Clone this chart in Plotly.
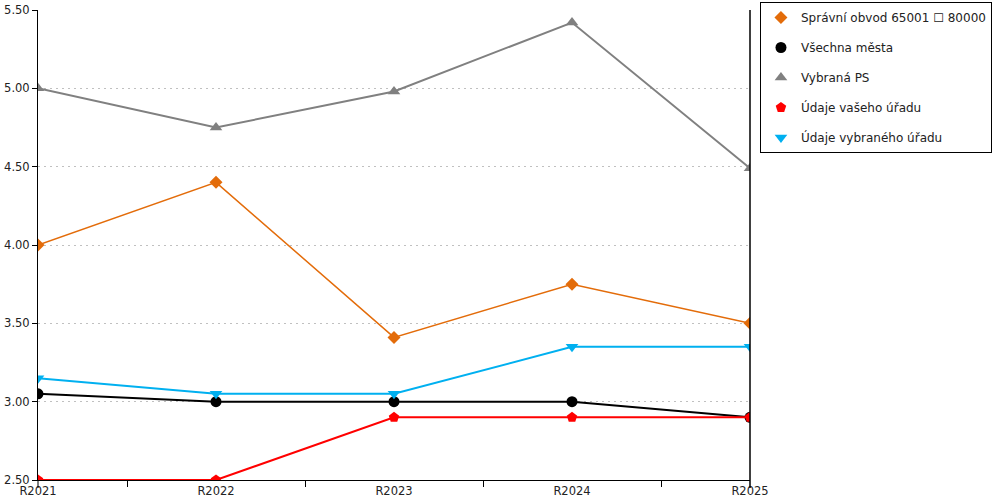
import plotly.graph_objects as go

years = ["R2021", "R2022", "R2023", "R2024", "R2025"]

obvod = [4.00, 4.40, 3.41, 3.75, 3.50]
vsechna_mesta = [3.05, 3.00, 3.00, 3.00, 2.90]
vybrana_ps = [5.00, 4.75, 4.98, 5.42, 4.49]
vas_urad = [2.50, 2.50, 2.90, 2.90, 2.90]
vybrany_urad = [3.15, 3.05, 3.05, 3.35, 3.35]

y_ticks = [2.5, 3.0, 3.5, 4.0, 4.5, 5.0, 5.5]

series = [
    ("Správní obvod 65001 \u2610 80000", obvod, "#E36C0A", "diamond", 1.5, 10),
    ("Všechna města", vsechna_mesta, "#000000", "circle", 2, 11),
    ("Vybraná PS", vybrana_ps, "#808080", "triangle-up", 2, 11),
    ("Údaje vašeho úřadu", vas_urad, "#FF0000", "pentagon", 2, 11),
    ("Údaje vybraného úřadu", vybrany_urad, "#00B0F0", "triangle-down", 2, 11),
]

fig = go.Figure()
for i, (name, vals, color, symbol, width, msize) in enumerate(series):
    fig.add_trace(go.Scatter(
        x=years, y=vals, name=name, mode="lines+markers",
        line=dict(color=color, width=width),
        marker=dict(color=color, symbol=symbol, size=msize),
        showlegend=False,
    ))
    # marker-only entry for the legend
    fig.add_trace(go.Scatter(
        x=[None], y=[None], name=name, mode="markers",
        marker=dict(color=color, symbol=symbol, size=msize),
        legendgroup="g%d" % i,
    ))

# right edge line and small ticks at the plot ends
fig.add_shape(type="line", xref="paper", yref="paper", x0=1, x1=1, y0=-0.017, y1=1,
              line=dict(color="black", width=1.5))
fig.add_shape(type="line", xref="paper", yref="paper", x0=0, x1=0, y0=-0.017, y1=0,
              line=dict(color="black", width=1))

fig.update_layout(
    width=1000, height=500,
    margin=dict(l=38, r=250, t=10, b=20, autoexpand=False),
    paper_bgcolor="white", plot_bgcolor="white",
    font=dict(family="DejaVu Sans", size=12, color="#222222"),
    showlegend=True,
    legend=dict(
        x=1.014, y=1.017, xanchor="left", yanchor="top",
        bordercolor="black", borderwidth=1,
        font=dict(size=12, color="#222222"),
        tracegroupgap=11, itemwidth=30,
    ),
    xaxis=dict(
        type="category", range=[0, 4], tickson="boundaries",
        ticks="outside", ticklen=6, tickcolor="black",
        tickfont=dict(size=11.5),
        showline=True, linecolor="black", linewidth=1,
        showgrid=False, zeroline=False, automargin=False,
    ),
    yaxis=dict(
        range=[2.5, 5.5], tickvals=y_ticks, tickformat=".2f",
        ticks="outside", ticklen=5, tickcolor="black",
        tickfont=dict(size=11.5),
        showline=True, linecolor="black", linewidth=1,
        showgrid=True, gridcolor="#C0C0C0", griddash="2px,4px", gridwidth=1,
        zeroline=False, automargin=False,
    ),
)

fig.write_html("out.html", config={"displayModeBar": False},
               post_script="document.body.style.margin='0';")
